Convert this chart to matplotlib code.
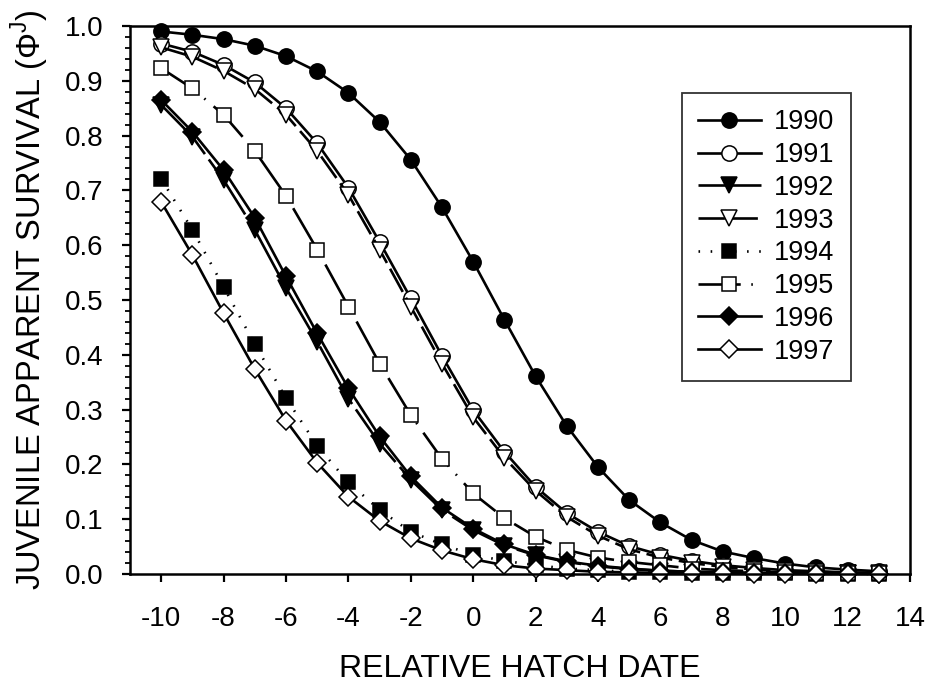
import matplotlib
matplotlib.use("Agg")
import matplotlib.pyplot as plt
from matplotlib.ticker import MultipleLocator, FormatStrFormatter

plt.rcParams['font.family'] = ['Liberation Sans', 'DejaVu Sans']
plt.rcParams['axes.unicode_minus'] = False

hatch_date = list(range(-10, 14))

s1990 = [0.990, 0.984, 0.976, 0.964, 0.945, 0.917, 0.878, 0.825, 0.756, 0.669, 0.570, 0.464,
         0.361, 0.270, 0.195, 0.135, 0.094, 0.062, 0.041, 0.029, 0.019, 0.012, 0.008, 0.005]
s1991 = [0.968, 0.953, 0.929, 0.897, 0.850, 0.786, 0.705, 0.606, 0.503, 0.398, 0.299, 0.223,
         0.159, 0.111, 0.077, 0.051, 0.035, 0.024, 0.016, 0.011, 0.007, 0.005, 0.003, 0.002]
s1992 = [0.856, 0.798, 0.719, 0.628, 0.522, 0.424, 0.320, 0.238, 0.172, 0.117, 0.080, 0.052,
         0.034, 0.022, 0.014, 0.009, 0.006, 0.004, 0.003, 0.002, 0.001, 0.001, 0.001, 0.0005]
s1993 = [0.961, 0.944, 0.918, 0.885, 0.838, 0.772, 0.692, 0.592, 0.488, 0.384, 0.286, 0.212,
         0.152, 0.104, 0.070, 0.045, 0.030, 0.020, 0.013, 0.008, 0.005, 0.004, 0.002, 0.002]
s1994 = [0.721, 0.628, 0.524, 0.419, 0.321, 0.234, 0.167, 0.117, 0.077, 0.054, 0.035, 0.024,
         0.016, 0.010, 0.007, 0.004, 0.003, 0.002, 0.001, 0.001, 0.001, 0.0005, 0.0003, 0.0002]
s1995 = [0.923, 0.886, 0.838, 0.772, 0.690, 0.592, 0.488, 0.384, 0.290, 0.210, 0.147, 0.102,
         0.068, 0.044, 0.030, 0.022, 0.016, 0.010, 0.007, 0.005, 0.003, 0.002, 0.001, 0.001]
s1996 = [0.865, 0.807, 0.737, 0.650, 0.543, 0.439, 0.339, 0.251, 0.178, 0.121, 0.083, 0.054,
         0.035, 0.023, 0.015, 0.010, 0.006, 0.004, 0.003, 0.002, 0.001, 0.001, 0.001, 0.0005]
s1997 = [0.679, 0.582, 0.476, 0.374, 0.280, 0.203, 0.141, 0.097, 0.065, 0.043, 0.027, 0.016,
         0.010, 0.007, 0.004, 0.003, 0.002, 0.001, 0.001, 0.0005, 0.0003, 0.0002, 0.0001, 0.0001]

years = ['1990', '1991', '1992', '1993', '1994', '1995', '1996', '1997']
series = [s1990, s1991, s1992, s1993, s1994, s1995, s1996, s1997]

styles = [
    dict(marker='o', mfc='black', ls='-', ms=11),
    dict(marker='o', mfc='white', ls='-', ms=11),
    dict(marker='v', mfc='black', ls=(0, (25, 2.5)), ms=11),
    dict(marker='v', mfc='white', ls=(0, (10, 2.5)), ms=11),
    dict(marker='s', mfc='black', ls=(0, (0.6, 4)), ms=10),
    dict(marker='s', mfc='white', ls=(0, (16, 4, 0.6, 4)), ms=10),
    dict(marker='D', mfc='black', ls='-', ms=9),
    dict(marker='D', mfc='white', ls='-', ms=9),
]

fig = plt.figure(figsize=(9.32, 6.86), dpi=100)
ax = fig.add_axes([130/932, 1 - 574/686, 780/932, 548/686])

for yr, vals, st in zip(years, series, styles):
    ax.plot(hatch_date, vals, color='black', lw=1.9, marker=st['marker'],
            mfc=st['mfc'], mec='black', mew=1.1, ms=st['ms'], ls=st['ls'],
            label=yr, clip_on=False)

ax.set_xlim(-11, 14)
ax.set_ylim(0, 1.0)
ax.set_xticks(range(-10, 15, 2))
ax.yaxis.set_major_locator(MultipleLocator(0.1))
ax.yaxis.set_minor_locator(MultipleLocator(0.02))
ax.yaxis.set_major_formatter(FormatStrFormatter('%.1f'))

for sp in ax.spines.values():
    sp.set_linewidth(1.8)
ax.tick_params(axis='both', which='major', direction='out', length=6, width=1.6,
               labelsize=20)
ax.tick_params(axis='y', which='minor', direction='out', length=3.5, width=1.3)
ax.tick_params(axis='x', pad=17)
ax.tick_params(axis='y', pad=13)

ax.set_xlabel('RELATIVE HATCH DATE', fontsize=23, labelpad=16)
ax.set_ylabel('JUVENILE APPARENT SURVIVAL (Φ$^\\mathregular{J}$)', fontsize=23.5, labelpad=10)

leg = ax.legend(loc='upper left', bbox_to_anchor=(682/932, 1 - 93/686),
                bbox_transform=fig.transFigure, fontsize=19.5, frameon=True,
                fancybox=False, edgecolor='black', handlelength=2.3,
                labelspacing=0.25, borderaxespad=0, borderpad=0.6,
                handletextpad=0.5)
leg.get_frame().set_linewidth(1.3)

fig.savefig('out.png', dpi=100)
